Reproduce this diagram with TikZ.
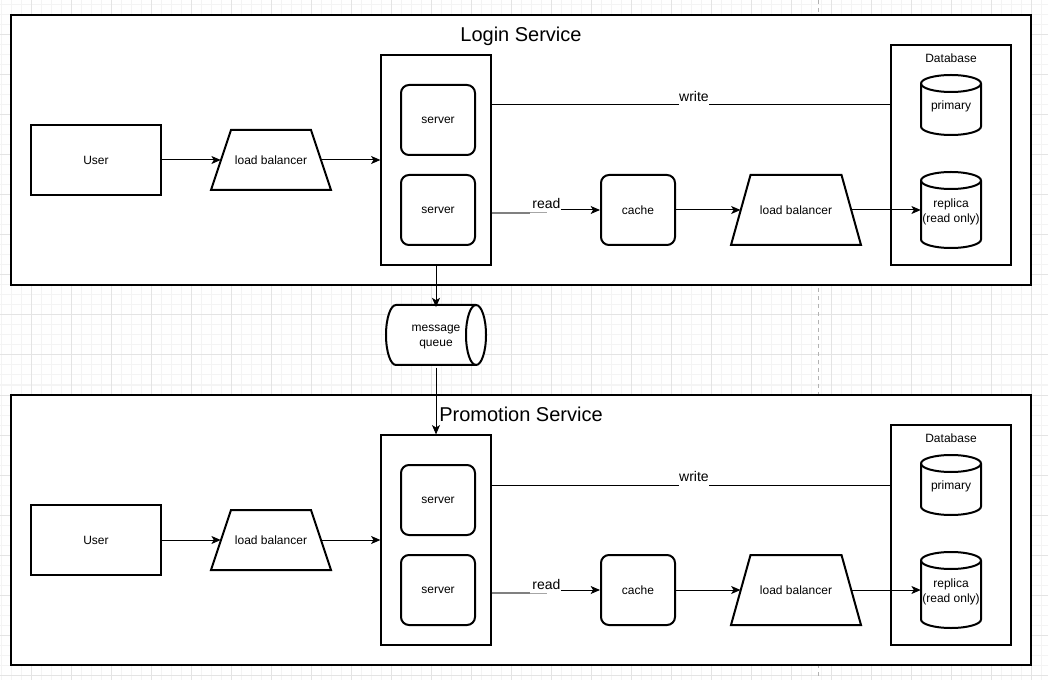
\documentclass[tikz,border=0pt]{standalone}
\usepackage{fontspec}
\setmainfont{Liberation Sans}
\usetikzlibrary{shapes.geometric,arrows.meta}
\definecolor{gridminor}{HTML}{F4F4F4}
\definecolor{gridmajor}{HTML}{E4E4E4}
\definecolor{readgray}{HTML}{808080}

\tikzset{
  conn/.style={line width=0.75pt, -{Stealth[length=7pt,width=6pt,inset=1.8pt]}},
  plainline/.style={line width=0.75pt},
  outerbox/.style={draw, line width=0.9pt, fill=white},
  thinbox/.style={draw, line width=0.9pt, fill=white},
  thickbox/.style={draw, line width=1.5pt, fill=white},
  thk/.style={line width=1.5pt},
  lbl/.style={font=\fontsize{9}{11.2}\selectfont},
  edgef/.style={font=\fontsize{10.5}{12.6}\selectfont},
  titlef/.style={font=\fontsize{15}{18}\selectfont},
  serverbox/.style={thickbox, rounded corners=6pt, minimum width=55.5pt, minimum height=52.5pt, lbl}
}

% vertical cylinder: name, cx, cy, height(px), text
\newcommand\mycyl[5]{%
  \draw[thk, fill=white] ({#2-30},{#3-#4/2+8.5}) -- ({#2-30},{#3+#4/2-8.5})
     arc[start angle=180, end angle=0, x radius=30, y radius=8.5]
     -- ({#2+30},{#3-#4/2+8.5})
     arc[start angle=0, end angle=-180, x radius=30, y radius=8.5] -- cycle;
  \draw[thk] ({#2-30},{#3-#4/2+8.5}) arc[start angle=180, end angle=0, x radius=30, y radius=8.5];
  \node[lbl, align=center, minimum width=45pt, minimum height={#4*0.75pt}, inner sep=0pt, yshift=-1.2pt] (#1) at (#2,#3) {#5};
}

% trapezoid load balancer: name, cx, cy, half top width, half bottom width, half height (px)
\newcommand\mylb[6]{%
  \draw[thk, fill=white] ({#2-#5},{#3+#6}) -- ({#2-#4},{#3-#6}) -- ({#2+#4},{#3-#6}) -- ({#2+#5},{#3+#6}) -- cycle;
  \node[lbl, minimum width={(#4+#5)*0.75pt}, minimum height={2*#6*0.75pt}, inner sep=0pt] (#1) at (#2,#3) {load balancer};
}

\newcommand\servicepart[3]{%
\begin{scope}[shift={(0,#2)}]
  \node[outerbox, minimum width=765pt, minimum height=202.5pt] (svc#1) at (521,150) {};
  \node[titlef, anchor=base] (title#1) at (521,41.7) {#3};
  \node[thickbox, minimum width=97.5pt, minimum height=52.5pt, lbl] (user#1) at (96,160) {User};
  \mylb{lb#1}{271}{160}{40}{60}{30}
  \node[thinbox, minimum width=82.5pt, minimum height=157.5pt] (cont#1) at (436,160) {};
  \node[serverbox] (srva#1) at (438,120) {server};
  \node[serverbox] (srvb#1) at (438,210) {server};
  \node[serverbox] (cache#1) at (638,210) {cache};
  \mylb{lbb#1}{796}{210}{45.5}{65}{35}
  \node[thinbox, minimum width=90pt, minimum height=165pt] (db#1) at (951,155) {};
  \node[lbl, anchor=base] (dbt#1) at (951,62.5) {Database};
  \mycyl{prim#1}{951}{105}{60}{primary}
  \mycyl{repl#1}{951}{210}{76}{replica\\(read only)}
  % connectors
  \draw[conn] (user#1.east) -- (lb#1.west);
  \draw[conn] (lb#1.east) -- (cont#1.west);
  \path (cont#1.east |- srva#1.center) ++(0,-15) coordinate (ws#1);
  \draw[plainline] (ws#1) -- node[edgef, pos=0.5075, anchor=base, yshift=2.6pt, fill=white, inner xsep=0.5pt, inner ysep=0pt, text depth=4pt] (write#1) {write} (db#1.west |- ws#1);
  \coordinate (ga#1) at (530,213);
  \coordinate (gb#1) at (547,213);
  \draw[line width=1.5pt, readgray] (cont#1.east |- ga#1) -- (ga#1);
  \draw[line width=0.75pt, readgray!70] (ga#1) -- (gb#1);
  \node[edgef, anchor=base, fill=white, inner sep=0pt, text depth=1.2pt] (read#1) at (546.5,209) {read};
  \draw[conn] (read#1.east |- cache#1.west) -- (cache#1.west);
  \draw[conn] (cache#1.east) -- (lbb#1.west);
  \draw[conn] (lbb#1.east) -- (lbb#1.east -| repl#1.west);
\end{scope}}

\begin{document}
\begin{tikzpicture}[x=0.75pt,y=-0.75pt]
  \useasboundingbox (0,0) rectangle (1048,680);
  \begin{scope}
    \clip (0,0) rectangle (1048,680);
    \fill[white] (0,0) rectangle (1048,680);
    \foreach \gx in {1,11,...,1041} \draw[gridminor, line width=0.75pt] (\gx,0) -- (\gx,680);
    \foreach \gy in {5,15,...,675} \draw[gridminor, line width=0.75pt] (0,\gy) -- (1048,\gy);
    \foreach \gx in {31,71,...,1031} \draw[gridmajor, line width=0.75pt] (\gx,0) -- (\gx,680);
    \foreach \gy in {35,75,...,675} \draw[gridmajor, line width=0.75pt] (0,\gy) -- (1048,\gy);
    \draw[gray!60, line width=0.75pt, dash pattern=on 3pt off 3pt] (818,0) -- (818,680);
  \end{scope}

  \servicepart{a}{0}{Login Service}
  \servicepart{b}{380}{Promotion Service}

  % message queue (horizontal cylinder)
  \draw[thk, fill=white] (396,305) -- (476,305)
     arc[start angle=270, end angle=450, x radius=10, y radius=30]
     -- (396,365)
     arc[start angle=90, end angle=270, x radius=10, y radius=30] -- cycle;
  \draw[thk] (476,305) arc[start angle=270, end angle=90, x radius=10, y radius=30];
  \node[lbl, align=center, minimum width=60pt, minimum height=45pt, inner sep=0pt, yshift=-1.8pt] (mq) at (436,335) {message\\queue};

  \draw[conn] (conta.south) -- (mq.north);
  \draw[conn] (mq.south) -- (contb.north);
\end{tikzpicture}
\end{document}
